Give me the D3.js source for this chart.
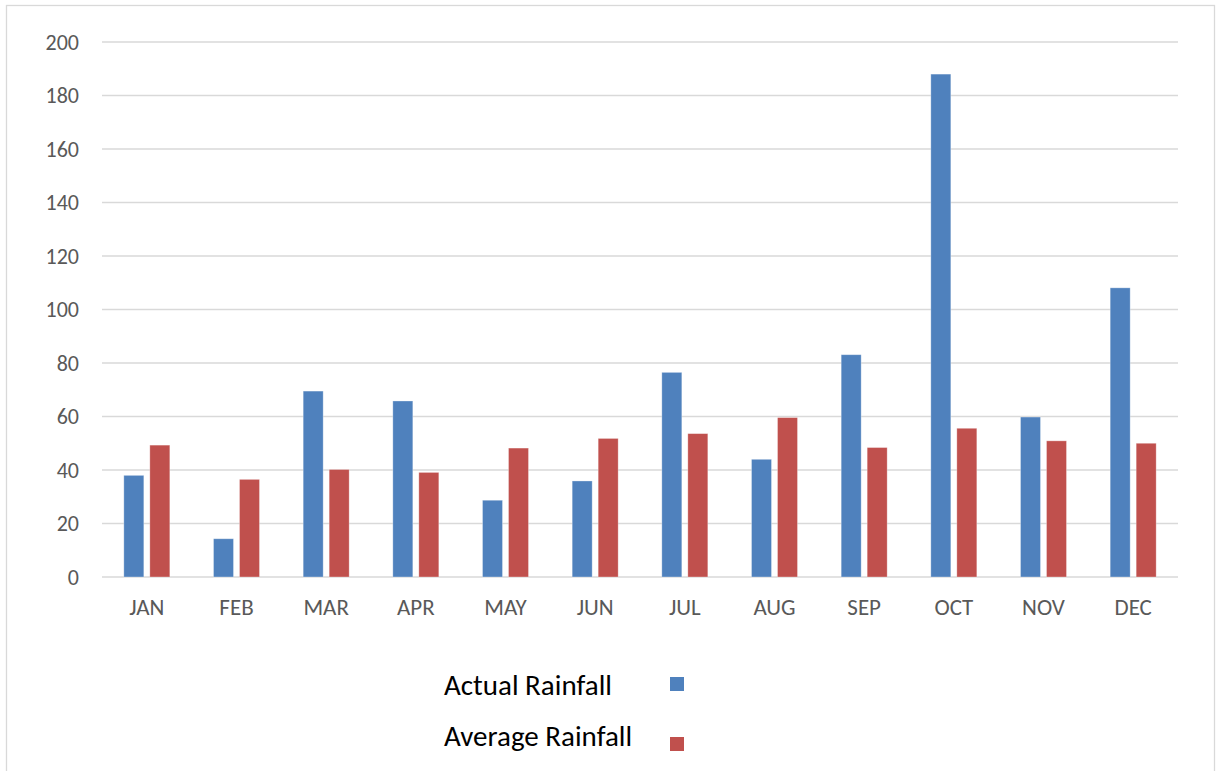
<!DOCTYPE html>
<html>
<head>
<meta charset="utf-8">
<script src="https://cdn.jsdelivr.net/npm/d3@7"></script>
<style>
  body { margin: 0; background: #fff; }
  svg { display: block; }
</style>
</head>
<body>
<script>
var w = 1218;
var h = 771;

// data
var months = ["JAN", "FEB", "MAR", "APR", "MAY", "JUN", "JUL", "AUG", "SEP", "OCT", "NOV", "DEC"];
var actualRainfall = [38.0, 14.3, 69.5, 65.8, 28.7, 35.9, 76.5, 44.0, 83.1, 188.0, 59.8, 108.1];
var averageRainfall = [49.3, 36.5, 40.2, 39.1, 48.2, 51.8, 53.6, 59.6, 48.4, 55.6, 50.9, 50.0];
var seriesNames = ["Actual Rainfall", "Average Rainfall"];
var seriesColors = ["#4F81BD", "#C0504D"];
var yTicks = [0, 20, 40, 60, 80, 100, 120, 140, 160, 180, 200];

var font = "Carlito, Calibri, Lato, sans-serif";

var svg = d3.select("body")
            .append("svg")
            .attr("width", w)
            .attr("height", h);

// outer chart border (bottom runs off the picture)
svg.append("rect")
   .attr("x", 6.5)
   .attr("y", 5.5)
   .attr("width", 1208)
   .attr("height", 800)
   .attr("fill", "none")
   .attr("stroke", "#D9D9D9")
   .attr("stroke-width", 1.3);

// plot area edges
var plotLeft = 102, plotRight = 1178, plotTop = 42, plotBottom = 577;

var pi = 1 - 46 / ((plotRight - plotLeft) / months.length);
var x0 = d3.scaleBand()
           .domain(months)
           .range([plotLeft, plotRight])
           .paddingInner(pi)
           .paddingOuter(pi / 2);

var x1 = d3.scaleBand()
           .domain([0, 1])
           .range([0, x0.bandwidth()])
           .paddingInner(0.2308);

var yScale = d3.scaleLinear()
               .domain([0, 200])
               .range([plotBottom, plotTop]);

// gridlines
svg.append("g")
   .selectAll("line")
   .data(yTicks)
   .enter()
   .append("line")
   .attr("x1", plotLeft)
   .attr("x2", plotRight)
   .attr("y1", function (d) { return yScale(d); })
   .attr("y2", function (d) { return yScale(d); })
   .attr("stroke", "#D9D9D9")
   .attr("stroke-width", 1.5);

// y axis labels
var yAxis = d3.axisLeft(yScale)
              .tickValues(yTicks)
              .tickSize(0)
              .tickPadding(23);

var gy = svg.append("g")
            .attr("transform", "translate(" + plotLeft + ",0)")
            .call(yAxis);
gy.select(".domain").remove();
gy.selectAll("text")
  .attr("fill", "#595959")
  .style("font-family", font)
  .style("font-size", "22px");

// x axis labels
var xAxis = d3.axisBottom(x0)
              .tickSize(0)
              .tickPadding(22);

var gx = svg.append("g")
            .attr("transform", "translate(0," + plotBottom + ")")
            .call(xAxis);
gx.select(".domain").remove();
gx.selectAll("text")
  .attr("fill", "#595959")
  .style("font-family", font)
  .style("font-size", "23px");

// bars
var rows = months.map(function (m, i) {
    return { month: m, values: [actualRainfall[i], averageRainfall[i]] };
});

var groups = svg.append("g")
                .selectAll("g")
                .data(rows)
                .enter()
                .append("g")
                .attr("transform", function (d) { return "translate(" + x0(d.month) + ",0)"; });

groups.selectAll("rect")
      .data(function (d) { return d.values.map(function (v, k) { return { k: k, v: v }; }); })
      .enter()
      .append("rect")
      .attr("x", function (d) { return x1(d.k); })
      .attr("y", function (d) { return yScale(d.v); })
      .attr("width", x1.bandwidth())
      .attr("height", function (d) { return yScale(0) - yScale(d.v); })
      .attr("fill", function (d) { return seriesColors[d.k]; })
      .attr("stroke", "#fff")
      .attr("stroke-opacity", 0.4)
      .attr("stroke-width", 0.8);

// legend
var legendY = [695, 746];
var legend = svg.append("g")
                .selectAll("g")
                .data(seriesNames)
                .enter()
                .append("g");

legend.append("text")
      .attr("x", 444)
      .attr("y", function (d, i) { return legendY[i]; })
      .text(function (d) { return d; })
      .attr("fill", "#000")
      .style("font-family", font)
      .style("font-size", "29px");

legend.append("rect")
      .attr("x", 670)
      .attr("y", function (d, i) { return [677, 737][i]; })
      .attr("width", 14)
      .attr("height", 14)
      .attr("fill", function (d, i) { return seriesColors[i]; });
</script>
</body>
</html>
